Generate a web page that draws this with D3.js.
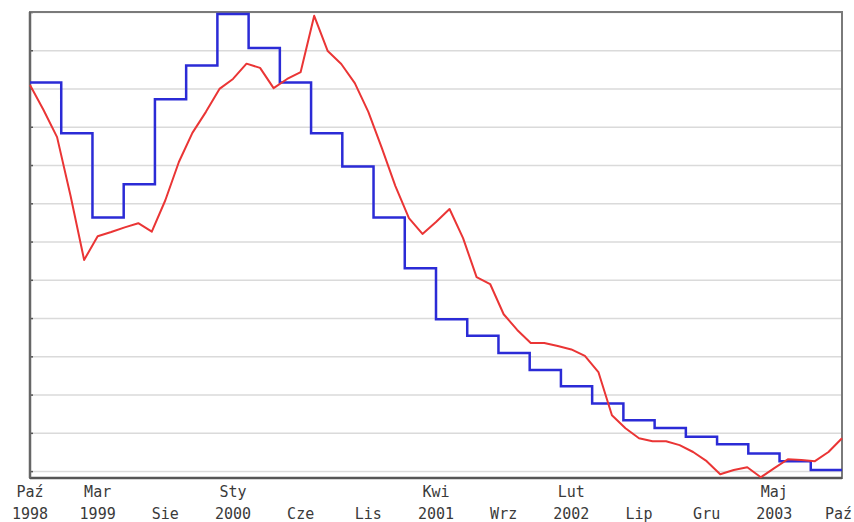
<!DOCTYPE html>
<html>
<head>
<meta charset="utf-8">
<script src="https://cdn.jsdelivr.net/npm/d3@7"></script>
<style>
    body { margin: 0; background: #fff; }
    .label { font-family: "DejaVu Sans Mono", monospace; font-size: 15px; fill: #3a3a3a; }
</style>
</head>
<body>
<div id="chart"></div>
<script>
// monthly red series, Paź 1998 .. Paź 2003 (gridline units)
const redValues = [
    10.09, 9.44, 8.73, 7.19, 5.52, 6.14, 6.25, 6.37, 6.48, 6.26,
    7.08, 8.08, 8.84, 9.39, 9.99, 10.25, 10.65, 10.54, 10.01, 10.25,
    10.43, 11.90, 10.98, 10.64, 10.14, 9.39, 8.44, 7.45, 6.61, 6.20,
    6.51, 6.85, 6.09, 5.07, 4.89, 4.10, 3.69, 3.35, 3.35, 3.27,
    3.18, 3.01, 2.59, 1.46, 1.12, 0.86, 0.78, 0.78, 0.68, 0.50,
    0.26, -0.08, 0.03, 0.10, -0.16, 0.08, 0.31, 0.29, 0.26, 0.50,
    0.86
];

// blue step series, equal-width steps over the same period
const blueValues = [
    10.16, 8.83, 6.63, 7.50, 9.72, 10.60, 11.95, 11.06, 10.16, 8.83,
    7.96, 6.63, 5.30, 3.97, 3.54, 3.09, 2.64, 2.22, 1.77, 1.33,
    1.13, 0.90, 0.70, 0.46, 0.26, 0.03
];

// x axis labels, one every 5 months
const tickMonths = ["Paź", "Mar", "Sie", "Sty", "Cze", "Lis", "Kwi", "Wrz", "Lut", "Lip", "Gru", "Maj", "Paź"];
const tickYears = ["1998", "1999", "", "2000", "", "", "2001", "", "2002", "", "", "2003", ""];
const gridValues = d3.range(0, 13);

const margin = { top: 12, right: 12, bottom: 44, left: 30 };
const width = 854 - margin.left - margin.right;
const height = 522 - margin.top - margin.bottom;

const svg = d3.select("#chart")
    .append("svg")
    .attr("width", width + margin.left + margin.right)
    .attr("height", height + margin.top + margin.bottom)
    .append("g")
    .attr("transform", `translate(${margin.left},${margin.top})`);

// scales
const x = d3.scaleLinear()
    .domain([0, redValues.length - 1])
    .range([0, width]);
const xStep = d3.scaleLinear()
    .domain([0, blueValues.length])
    .range([0, width]);
const y = d3.scaleLinear()
    .domain([-0.18, 12])
    .range([height, 0]);

// gridlines
svg.append("g")
    .attr("class", "grid")
    .call(d3.axisLeft(y).tickValues(gridValues).tickSize(-width).tickFormat(""))
    .call(g => g.select(".domain").remove())
    .call(g => g.selectAll("line").attr("stroke", "#dadada").attr("stroke-width", 1.5));

// small tick marks on the left edge
svg.append("g")
    .call(d3.axisLeft(y).tickValues(gridValues).tickSize(-3).tickFormat(""))
    .call(g => g.select(".domain").remove())
    .call(g => g.selectAll("line").attr("stroke", "#555").attr("stroke-width", 1.5));

// frame
svg.append("rect")
    .attr("x", 0)
    .attr("y", 0)
    .attr("width", width)
    .attr("height", height)
    .attr("fill", "none")
    .attr("stroke", "#7a7a7a")
    .attr("stroke-width", 2);
svg.append("line")
    .attr("x1", 0)
    .attr("x2", width)
    .attr("y1", height)
    .attr("y2", height)
    .attr("stroke", "#555")
    .attr("stroke-width", 2.5);
svg.append("line")
    .attr("x1", 0)
    .attr("x2", 0)
    .attr("y1", 0)
    .attr("y2", height)
    .attr("stroke", "#666")
    .attr("stroke-width", 2.5);

// blue step line
const bluePoints = blueValues.map((v, i) => [i, v]);
bluePoints.push([blueValues.length, blueValues[blueValues.length - 1]]);
svg.append("path")
    .datum(bluePoints)
    .attr("fill", "none")
    .attr("stroke", "#2b2bd6")
    .attr("stroke-width", 2.5)
    .attr("d", d3.line()
        .x(d => xStep(d[0]))
        .y(d => y(d[1]))
        .curve(d3.curveStepAfter));

// red line
svg.append("path")
    .datum(redValues)
    .attr("fill", "none")
    .attr("stroke", "#ea3535")
    .attr("stroke-width", 2)
    .attr("stroke-linejoin", "round")
    .attr("d", d3.line()
        .x((d, i) => x(i))
        .y(d => y(d)));

// x labels
const tickAt = d3.range(0, redValues.length, 5);
const labels = svg.append("g").attr("class", "xlabels");
tickAt.forEach((m, i) => {
    const last = i === tickAt.length - 1;
    const lx = last ? x(m) + 10 : x(m);
    const anchor = last ? "end" : "middle";
    if (tickYears[i] !== "") {
        labels.append("text")
            .attr("class", "label")
            .attr("x", lx)
            .attr("y", height + 19)
            .attr("text-anchor", anchor)
            .text(tickMonths[i]);
        labels.append("text")
            .attr("class", "label")
            .attr("x", lx)
            .attr("y", height + 41)
            .attr("text-anchor", anchor)
            .text(tickYears[i]);
    } else {
        labels.append("text")
            .attr("class", "label")
            .attr("x", lx)
            .attr("y", height + 41)
            .attr("text-anchor", anchor)
            .text(tickMonths[i]);
    }
});
</script>
</body>
</html>
